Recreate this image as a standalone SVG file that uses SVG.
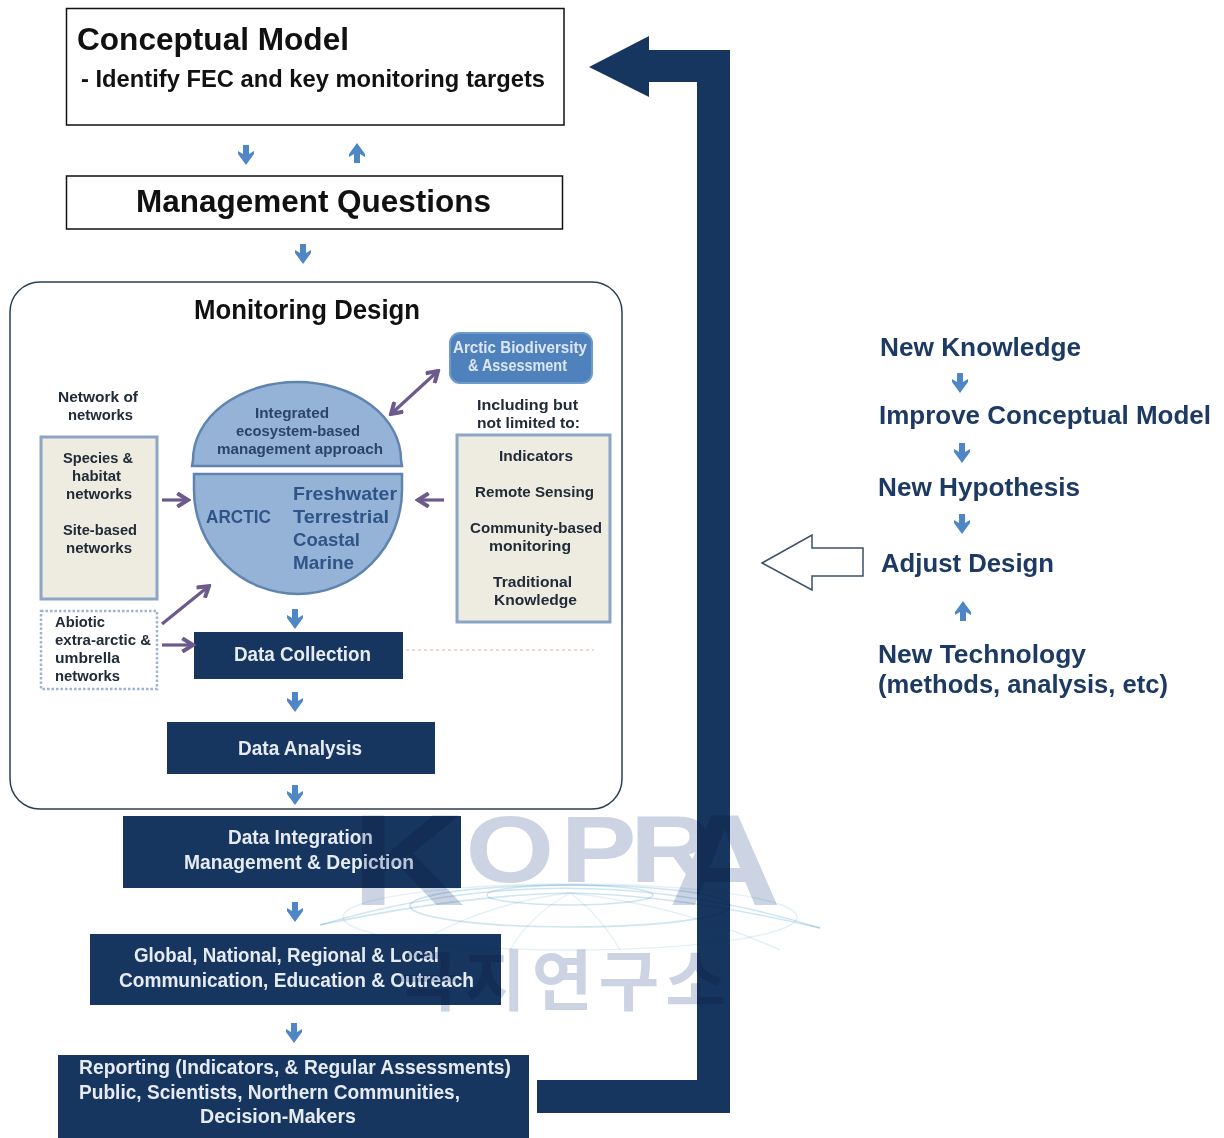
<svg xmlns="http://www.w3.org/2000/svg" width="1224" height="1138" viewBox="0 0 1224 1138">
<style>
text{font-family:"Liberation Sans",Arial,sans-serif;font-weight:700;}
.box{fill:#fff;stroke:#111;stroke-width:1.5}
.navy{fill:#17365f}
.w{fill:#e6ebf1;font-size:20px}
.k{fill:#222b38;font-size:15.5px}
.d{fill:#2b4468;font-size:15.5px}
.b{fill:#2f5588;font-size:18.5px}
.r{fill:#1c3a63;font-size:26px}
.beige{fill:#eeece1;stroke:#8ba5c4;stroke-width:3}
.semi{fill:#95b3d7;stroke:#5f84b0;stroke-width:2.5}
.pu{fill:none;stroke:#6d5a8c;stroke-width:3.2}
.wm{fill:#ccd4e4;mix-blend-mode:multiply;font-family:"Liberation Sans",sans-serif}
.gl{fill:none;stroke:#cfe6f2;stroke-width:1.6;mix-blend-mode:multiply}
.gf{fill:none;stroke:#e4f1f7;stroke-width:1.4;mix-blend-mode:multiply}
</style>
<defs>
<filter id="soft" filterUnits="userSpaceOnUse" x="0" y="0" width="1224" height="1138" color-interpolation-filters="sRGB"><feGaussianBlur stdDeviation="0.45"/></filter>
<marker id="pa" viewBox="0 0 12 12" refX="10" refY="6" markerWidth="5" markerHeight="5" orient="auto-start-reverse" markerUnits="strokeWidth"><path d="M2 1L10 6L2 11" fill="none" stroke="#6d5a8c" stroke-width="3"/></marker>
<path id="da" d="M-3 -10H3V-1L8 -4L8 -1L0 10L-8 -1L-8 -4L-3 -1Z" fill="#4f86c6"/>
</defs>
<rect width="1224" height="1138" fill="#fff"/>
<g filter="url(#soft)">
<g id="conceptual-model"><rect class="box" x="66.500" y="8.500" width="497.500" height="116.500"/>
<text x="77" y="50" font-size="32" textLength="272" lengthAdjust="spacingAndGlyphs" fill="#111">Conceptual Model</text>
<text x="81" y="87" font-size="24" textLength="464" lengthAdjust="spacingAndGlyphs" fill="#111">- Identify FEC and key monitoring targets</text></g>
<g id="management-questions"><rect class="box" x="66.500" y="176" width="496" height="53"/>
<text x="136" y="212" font-size="32" textLength="355" lengthAdjust="spacingAndGlyphs" fill="#111">Management Questions</text></g>
<g id="monitoring-design"><rect x="10" y="282" width="612" height="527" rx="30" fill="#fff" stroke="#2b3f55" stroke-width="1.5"/>
<text x="194" y="319" font-size="27" textLength="226" lengthAdjust="spacingAndGlyphs" fill="#111">Monitoring Design</text>
<path d="M406 650H594" stroke="#f0d8cf" stroke-width="2" stroke-dasharray="3 3" fill="none"/></g>
<g id="arctic-biodiversity"><rect x="450" y="333" width="142" height="50" rx="10" fill="#4f81bd" stroke="#6e9ac9" stroke-width="2"/>
<text x="453" y="353" font-size="16" textLength="134" lengthAdjust="spacingAndGlyphs" fill="#dce6f2">Arctic Biodiversity</text>
<text x="468" y="371" font-size="16" textLength="99" lengthAdjust="spacingAndGlyphs" fill="#dce6f2">&amp; Assessment</text></g>
<g id="network-label"><text class="k" x="58" y="402" textLength="80" lengthAdjust="spacingAndGlyphs">Network of</text>
<text class="k" x="68" y="420" textLength="65" lengthAdjust="spacingAndGlyphs">networks</text></g>
<g id="including-label"><text class="k" x="477" y="410" textLength="101" lengthAdjust="spacingAndGlyphs">Including but</text>
<text class="k" x="477" y="428" textLength="103" lengthAdjust="spacingAndGlyphs">not limited to:</text></g>
<g id="integrated-approach"><path class="semi" d="M192 466L193 460A104 78 0 0 1 401 460L402 466Z"/>
<text class="d" x="255" y="418" textLength="74" lengthAdjust="spacingAndGlyphs">Integrated</text>
<text class="d" x="236" y="436" textLength="124" lengthAdjust="spacingAndGlyphs">ecosystem-based</text>
<text class="d" x="217" y="454" textLength="166" lengthAdjust="spacingAndGlyphs">management approach</text></g>
<g id="arctic"><path class="semi" d="M194 474H402V490A104 104 0 0 1 194 490Z"/>
<text class="b" x="206" y="523" textLength="65" lengthAdjust="spacingAndGlyphs">ARCTIC</text>
<text class="b" x="293" y="500" textLength="104" lengthAdjust="spacingAndGlyphs">Freshwater</text>
<text class="b" x="293" y="523" textLength="96" lengthAdjust="spacingAndGlyphs">Terrestrial</text>
<text class="b" x="293" y="546" textLength="67" lengthAdjust="spacingAndGlyphs">Coastal</text>
<text class="b" x="293" y="569" textLength="61" lengthAdjust="spacingAndGlyphs">Marine</text></g>
<g id="networks-box"><rect class="beige" x="41" y="437" width="116" height="162"/>
<text class="k" x="63" y="463" textLength="70" lengthAdjust="spacingAndGlyphs">Species &amp;</text>
<text class="k" x="72" y="481" textLength="49" lengthAdjust="spacingAndGlyphs">habitat</text>
<text class="k" x="66" y="499" textLength="66" lengthAdjust="spacingAndGlyphs">networks</text>
<text class="k" x="63" y="535" textLength="74" lengthAdjust="spacingAndGlyphs">Site-based</text>
<text class="k" x="66" y="553" textLength="66" lengthAdjust="spacingAndGlyphs">networks</text></g>
<g id="abiotic-box"><rect x="41" y="611" width="116" height="78" fill="#fff" stroke="#9db4d2" stroke-width="2.500" stroke-dasharray="2.500 2"/>
<text class="k" x="55" y="627" textLength="50" lengthAdjust="spacingAndGlyphs">Abiotic</text>
<text class="k" x="55" y="645" textLength="96" lengthAdjust="spacingAndGlyphs">extra-arctic &amp;</text>
<text class="k" x="55" y="663" textLength="65" lengthAdjust="spacingAndGlyphs">umbrella</text>
<text class="k" x="55" y="681" textLength="65" lengthAdjust="spacingAndGlyphs">networks</text></g>
<g id="methods-box"><rect class="beige" x="457" y="435" width="153" height="187"/>
<text class="k" x="499" y="461" textLength="74" lengthAdjust="spacingAndGlyphs">Indicators</text>
<text class="k" x="475" y="497" textLength="119" lengthAdjust="spacingAndGlyphs">Remote Sensing</text>
<text class="k" x="470" y="533" textLength="132" lengthAdjust="spacingAndGlyphs">Community-based</text>
<text class="k" x="489" y="551" textLength="82" lengthAdjust="spacingAndGlyphs">monitoring</text>
<text class="k" x="493" y="587" textLength="79" lengthAdjust="spacingAndGlyphs">Traditional</text>
<text class="k" x="494" y="605" textLength="83" lengthAdjust="spacingAndGlyphs">Knowledge</text></g>
<g id="data-collection"><rect class="navy" x="194" y="632" width="209" height="47"/>
<text class="w" x="234" y="661" textLength="137" lengthAdjust="spacingAndGlyphs">Data Collection</text></g>
<g id="data-analysis"><rect class="navy" x="167" y="722" width="268" height="52"/>
<text class="w" x="238" y="755" textLength="124" lengthAdjust="spacingAndGlyphs">Data Analysis</text></g>
<g id="data-integration"><rect class="navy" x="123" y="816" width="338" height="72"/>
<text class="w" x="228" y="844" textLength="145" lengthAdjust="spacingAndGlyphs">Data Integration</text>
<text class="w" x="184" y="869" textLength="230" lengthAdjust="spacingAndGlyphs">Management &amp; Depiction</text></g>
<g id="communication"><rect class="navy" x="90" y="934" width="411" height="71"/>
<text class="w" x="134" y="962" textLength="305" lengthAdjust="spacingAndGlyphs">Global, National, Regional &amp; Local</text>
<text class="w" x="119" y="987" textLength="355" lengthAdjust="spacingAndGlyphs">Communication, Education &amp; Outreach</text></g>
<g id="reporting"><rect class="navy" x="58" y="1055" width="471" height="83"/>
<text class="w" x="79" y="1074" textLength="432" lengthAdjust="spacingAndGlyphs">Reporting (Indicators, &amp; Regular Assessments)</text>
<text class="w" x="79" y="1099" textLength="381" lengthAdjust="spacingAndGlyphs">Public, Scientists, Northern Communities,</text>
<text class="w" x="200" y="1123" textLength="156" lengthAdjust="spacingAndGlyphs">Decision-Makers</text></g>
<g id="side-labels">
<text class="r" x="880" y="356" textLength="201" lengthAdjust="spacingAndGlyphs">New Knowledge</text>
<text class="r" x="879" y="424" textLength="332" lengthAdjust="spacingAndGlyphs">Improve Conceptual Model</text>
<text class="r" x="878" y="496" textLength="202" lengthAdjust="spacingAndGlyphs">New Hypothesis</text>
<text class="r" x="881" y="572" textLength="173" lengthAdjust="spacingAndGlyphs">Adjust Design</text>
<text class="r" x="878" y="663" textLength="208" lengthAdjust="spacingAndGlyphs">New Technology</text>
<text class="r" x="878" y="693" textLength="290" lengthAdjust="spacingAndGlyphs">(methods, analysis, etc)</text>
</g>
<g id="connectors">
<path class="navy" d="M537 1080H697V82H649V97L589 67L649 36V50H730V1113H537Z"/>
<path d="M762 563L812 535V548H863V576H812V590Z" fill="#fff" stroke="#3b5068" stroke-width="1.500"/>
<use href="#da" x="246" y="155"/>
<use href="#da" transform="translate(357 153) rotate(180)"/>
<use href="#da" x="303" y="254"/>
<use href="#da" x="295" y="619"/>
<use href="#da" x="295" y="702"/>
<use href="#da" x="295" y="795"/>
<use href="#da" x="295" y="912"/>
<use href="#da" x="294" y="1033"/>
<use href="#da" x="960" y="383"/>
<use href="#da" x="962" y="453"/>
<use href="#da" x="962" y="524"/>
<use href="#da" transform="translate(963 611) rotate(180)"/>
<path class="pu" marker-end="url(#pa)" d="M162 500H188"/>
<path class="pu" marker-end="url(#pa)" d="M444 500H418"/>
<path class="pu" marker-end="url(#pa)" d="M162 624L209 586"/>
<path class="pu" marker-end="url(#pa)" d="M162 645H193"/>
<path class="pu" marker-start="url(#pa)" marker-end="url(#pa)" d="M391 414L438 371"/>
</g>
<g id="watermark">
<text class="wm" transform="scale(1.2 1)"><tspan x="293" y="905" font-size="130">K</tspan><tspan x="388" y="882" font-size="95">O</tspan><tspan x="467" y="882" font-size="95">P</tspan><tspan x="525" y="882" font-size="95">R</tspan><tspan x="557" y="905" font-size="130">A</tspan></text>
<text class="wm" x="398" y="1005" font-size="66" style="font-family:'Noto Sans CJK KR',sans-serif" textLength="328" lengthAdjust="spacing">극지연구소</text>
<path class="gl" d="M320 925Q570 850 820 928"/>
<ellipse class="gl" cx="570" cy="895" rx="83" ry="10"/>
<ellipse class="gl" cx="570" cy="906" rx="160" ry="21"/>
<ellipse class="gf" cx="570" cy="917" rx="227" ry="33"/>
<path class="gl" d="M320 925Q460 895 570 893M820 928Q680 895 570 893"/>
<path class="gf" d="M570 893Q470 905 395 958M570 893Q530 915 510 950M570 893Q600 915 620 950M570 893Q680 905 780 950"/>
</g>
</g>
</svg>
